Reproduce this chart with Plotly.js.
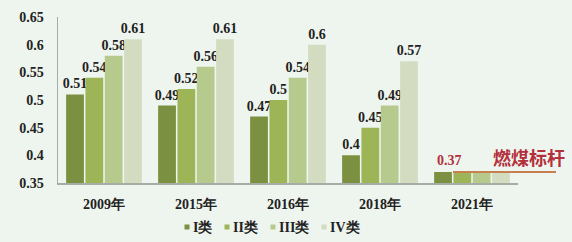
<!DOCTYPE html>
<html>
<head>
<meta charset="utf-8">
<script src="https://cdn.plot.ly/plotly-3.0.1.min.js"></script>
<style>html,body{margin:0;padding:0;background:#eef5ee;}#chart{width:572px;height:242px;}</style>
</head>
<body>
<div id="chart"></div>
<script>
var categories = ['2009年', '2015年', '2016年', '2018年', '2021年'];
var seriesNames = ['I类', 'II类', 'III类', 'IV类'];
var classI   = [0.51, 0.49, 0.47, 0.40, 0.37];
var classII  = [0.54, 0.52, 0.50, 0.45, 0.37];
var classIII = [0.58, 0.56, 0.54, 0.49, 0.37];
var classIV  = [0.61, 0.61, 0.60, 0.57, 0.37];
var benchmarkValue = 0.37;
var benchmarkLabel = '燃煤标杆';
var yTicks = [0.35, 0.4, 0.45, 0.5, 0.55, 0.6, 0.65];

var seriesValues = [classI, classII, classIII, classIV];
var colors = ['#7b9040', '#9db556', '#b7ca8d', '#d3dcc1'];
var serif = 'Liberation Serif, Times New Roman, serif';

var traces = seriesValues.map(function (vals, i) {
  return {
    type: 'bar',
    name: seriesNames[i],
    x: categories,
    y: vals,
    base: 0,
    text: vals.map(function (v, j) { return j < categories.length - 1 ? String(v) : ''; }),
    textposition: 'outside',
    constraintext: 'none',
    cliponaxis: false,
    textfont: {family: serif, size: 14, color: '#222222', weight: 'bold'},
    marker: {color: colors[i]},
    hoverinfo: 'skip'
  };
});

// plot area geometry in px, for converting legend/decor positions to paper coords
var L = 58, R = 518, T = 17, B = 183;
function px(x) { return (x - L) / (R - L); }
function py(y) { return (B - y) / (B - T); }

var annotations = [];
var shapes = [];

// legend built from series names
var markerX = [187, 227, 273, 324];
seriesNames.forEach(function (n, i) {
  shapes.push({type: 'rect', xref: 'paper', yref: 'paper',
    x0: px(markerX[i] - 2.5), x1: px(markerX[i] + 2.5), y0: py(229.5), y1: py(224.5),
    fillcolor: colors[i], line: {width: 0}});
  annotations.push({xref: 'paper', yref: 'paper', x: px(markerX[i] + 4), y: py(227),
    xanchor: 'left', yanchor: 'middle', showarrow: false, text: n,
    font: {family: serif, size: 14, color: '#222222', weight: 'bold'}});
});

// 2021 benchmark
annotations.push({xref: 'paper', yref: 'paper', x: px(449), y: py(160), xanchor: 'center', yanchor: 'middle',
  showarrow: false, text: String(benchmarkValue),
  font: {family: serif, size: 14, color: '#b3303c', weight: 'bold'}});
annotations.push({xref: 'paper', yref: 'paper', x: px(529), y: py(157), xanchor: 'center', yanchor: 'middle',
  showarrow: false, text: benchmarkLabel,
  font: {family: 'Noto Sans CJK SC, sans-serif', size: 18, color: '#b3303c', weight: 'bold'}});
shapes.push({type: 'line', xref: 'paper', yref: 'y', x0: px(453), x1: px(556),
  y0: benchmarkValue, y1: benchmarkValue, line: {color: '#c8804e', width: 2}, layer: 'above'});

var layout = {
  width: 572, height: 242,
  margin: {l: L, r: 572 - R, t: T, b: 242 - B},
  paper_bgcolor: '#eef5ee',
  plot_bgcolor: '#eef5ee',
  showlegend: false,
  barmode: 'group',
  bargap: 0.16,
  bargroupgap: 0.08,
  xaxis: {
    type: 'category',
    showgrid: false, zeroline: false,
    showline: true, linecolor: '#a7aca7', linewidth: 1.5,
    ticks: '', ticklabelstandoff: 8,
    tickfont: {family: serif, size: 14, color: '#222222', weight: 'bold'}
  },
  yaxis: {
    range: [0.35, 0.65],
    tickvals: yTicks,
    ticktext: yTicks.map(String),
    showgrid: false, zeroline: false,
    showline: true, linecolor: '#a7aca7', linewidth: 1.5,
    ticks: '', ticklabelstandoff: 10,
    tickfont: {family: serif, size: 14, color: '#222222', weight: 'bold'}
  },
  annotations: annotations,
  shapes: shapes
};

Plotly.newPlot('chart', traces, layout, {displayModeBar: false, staticPlot: true});
</script>
</body>
</html>
